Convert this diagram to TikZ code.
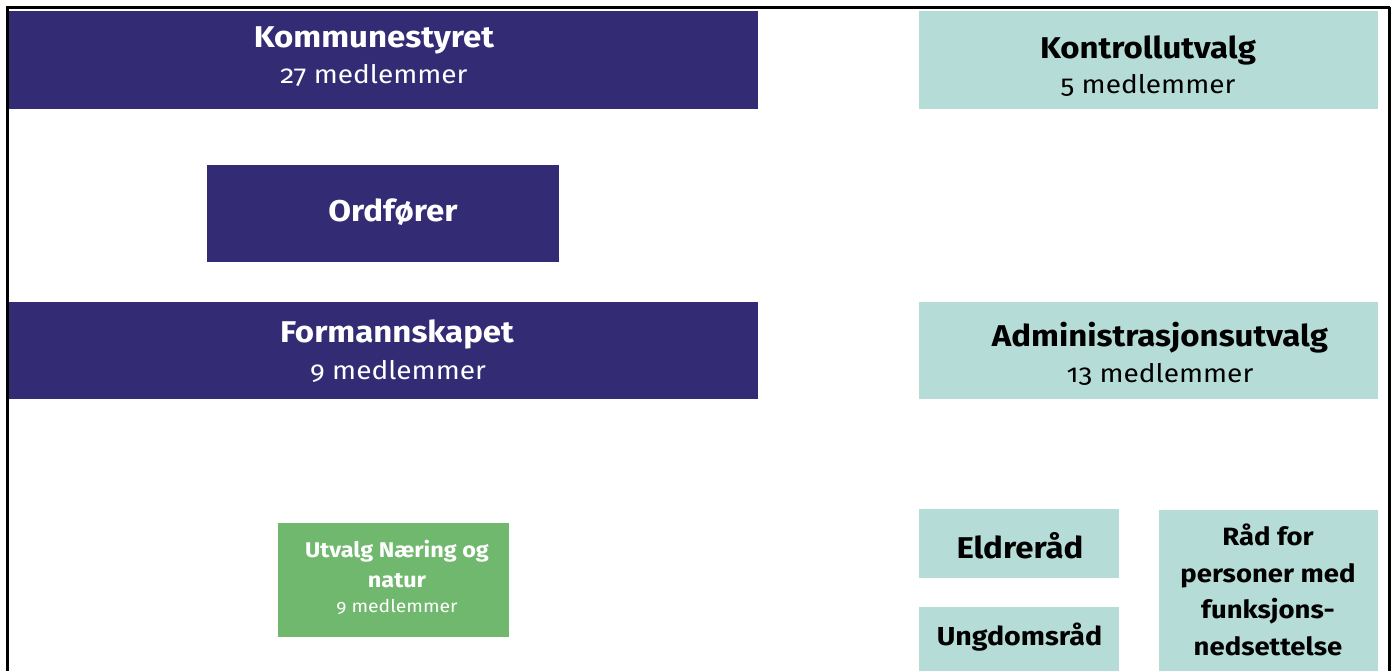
\documentclass[tikz,border=0pt]{standalone}
\usepackage{fontspec}
\setmainfont{Fira Sans}[Numbers=OldStyle, FakeStretch=1.1]
\definecolor{darkblue}{HTML}{332C74}
\definecolor{lightteal}{HTML}{B5DCD7}
\definecolor{leafgreen}{HTML}{71B86F}
\tikzset{
  box/.style={draw=none, inner sep=0pt, outer sep=0pt, anchor=north west},
  bluebox/.style={box, fill=darkblue},
  tealbox/.style={box, fill=lightteal},
  greenbox/.style={box, fill=leafgreen},
  lbl/.style={inner sep=0pt, anchor=base},
  wtitle/.style={lbl, text=white, font=\fontsize{30}{34}\selectfont\bfseries},
  wsub/.style={lbl, text=white, font=\fontsize{25.5}{30}\selectfont},
  ktitle/.style={lbl, text=black, font=\fontsize{30}{34}\selectfont\bfseries},
  ksub/.style={lbl, text=black, font=\fontsize{25.5}{30}\selectfont},
  kmid/.style={lbl, text=black, font=\fontsize{26}{30}\selectfont\bfseries},
  ksmall/.style={lbl, text=black, font=\fontsize{25}{30}\selectfont\bfseries},
  gtitle/.style={lbl, text=white, font=\fontsize{21.3}{25}\selectfont\bfseries},
  gsub/.style={lbl, text=white, font=\fontsize{17.6}{20}\selectfont},
}
\begin{document}
\begin{tikzpicture}[x=1pt,y=-1pt]
\useasboundingbox (0,0) rectangle (1395,671);
\fill[white] (0,0) rectangle (1395,671);
% boxes
\node[bluebox, minimum width=749pt, minimum height=98pt] (ks) at (9,11) {};
\node[tealbox, minimum width=459pt, minimum height=98pt] (ku) at (919,11) {};
\node[bluebox, minimum width=352pt, minimum height=97pt] (of) at (207,165) {};
\node[bluebox, minimum width=749pt, minimum height=97pt] (fs) at (9,302) {};
\node[tealbox, minimum width=459pt, minimum height=97pt] (au) at (919,302) {};
\node[greenbox, minimum width=231pt, minimum height=114pt] (un) at (278,523) {};
\node[tealbox, minimum width=200pt, minimum height=69pt] (er) at (919,509) {};
\node[tealbox, minimum width=200pt, minimum height=70pt] (ur) at (919,607) {};
\node[tealbox, minimum width=219pt, minimum height=167pt] (rp) at (1159,510) {};
% frame
\coordinate (fbl) at (7.5,671);
\coordinate (ftl) at (7.5,7.5);
\coordinate (ftr) at (1389.5,7.5);
\coordinate (fbr) at (1389.5,671);
\draw[line width=3pt] (fbl) -- (ftl) -- (ftr);
\draw[line width=2.2pt] (ftr) -- (fbr);
% texts
\node[wtitle] (kst) at (374,48) {Kommunestyret};
\node[wsub] (kss) at (374,84) {27 medlemmer};
\node[ktitle] (kut) at (1148,59) {Kontrollutvalg};
\node[ksub] (kus) at (1148,94) {5 medlemmer};
\node[wtitle] (oft) at (393,222) {Ordfører};
\node[wtitle] (fst) at (397,342) {Formannskapet};
\node[wsub] (fss) at (398,379) {9 medlemmer};
\node[ktitle] (aut) at (1160,346) {Administrasjonsutvalg};
\node[ksub] (aus) at (1160,382) {13 medlemmer};
\node[gtitle] (unt1) at (397,557) {Utvalg Næring og};
\node[gtitle] (unt2) at (397,587) {natur};
\node[gsub] (uns) at (397,612) {9 medlemmer};
\node[ktitle] (ert) at (1020,558) {Eldreråd};
\node[kmid] (urt) at (1019.5,645) {Ungdomsråd};
\node[ksmall] (rp1) at (1268,545) {Råd for};
\node[ksmall] (rp2) at (1268,582) {personer med};
\node[ksmall] (rp3) at (1268,618) {funksjons-};
\node[ksmall] (rp4) at (1268,655) {nedsettelse};
\end{tikzpicture}
\end{document}
